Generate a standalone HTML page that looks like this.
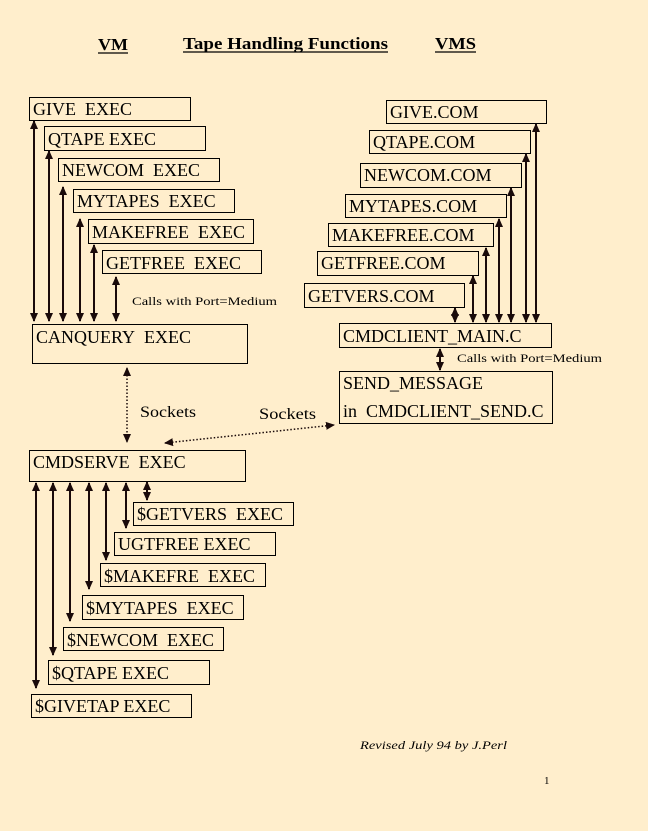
<!DOCTYPE html>
<html><head><style>
html,body{margin:0;padding:0;background:#FFEECC;}
svg{display:block;}
text{font-family:"Liberation Serif",serif;fill:#000;}
.s{font-size:12px;}
</style></head><body>
<svg width="648" height="831" viewBox="0 0 648 831" xmlns="http://www.w3.org/2000/svg">
<defs>
<marker id="a" markerWidth="9" markerHeight="9" refX="8" refY="4.5" orient="auto-start-reverse" markerUnits="userSpaceOnUse">
<path d="M0,0.5 L9,4.5 L0,8.5 Z" fill="#1a0a0a"/></marker>
</defs>
<rect width="648" height="831" fill="#FFEECC"/>
<g font-weight="bold" font-size="17">
<text x="98" y="50" textLength="30" lengthAdjust="spacingAndGlyphs">VM</text><line x1="98" y1="53" x2="128" y2="53" stroke="#000" stroke-width="1.2"/>
<text x="183" y="49" textLength="205" lengthAdjust="spacingAndGlyphs">Tape Handling Functions</text><line x1="183" y1="52" x2="388" y2="52" stroke="#000" stroke-width="1.2"/>
<text x="435" y="49" textLength="41" lengthAdjust="spacingAndGlyphs">VMS</text><line x1="435" y1="52" x2="476" y2="52" stroke="#000" stroke-width="1.2"/>
</g>
<g fill="none" stroke="#000" stroke-width="1">
<rect x="29.5" y="97.5" width="161" height="23"/>
<rect x="44.5" y="126.5" width="161" height="24"/>
<rect x="58.5" y="158.5" width="161" height="23"/>
<rect x="73.5" y="189.5" width="161" height="23"/>
<rect x="88.5" y="219.5" width="165" height="24"/>
<rect x="102.5" y="250.5" width="159" height="23"/>
<rect x="32.5" y="324.5" width="215" height="39"/>
<rect x="386.5" y="100.5" width="160" height="23"/>
<rect x="369.5" y="130.5" width="161" height="23"/>
<rect x="360.5" y="163.5" width="161" height="24"/>
<rect x="345.5" y="194.5" width="161" height="23"/>
<rect x="328.5" y="223.5" width="165" height="23"/>
<rect x="317.5" y="251.5" width="161" height="24"/>
<rect x="304.5" y="283.5" width="160" height="24"/>
<rect x="339.5" y="323.5" width="212" height="24"/>
<rect x="339.5" y="371.5" width="213" height="52"/>
<rect x="29.5" y="450.5" width="216" height="31"/>
<rect x="133.5" y="502.5" width="160" height="23"/>
<rect x="114.5" y="532.5" width="161" height="23"/>
<rect x="100.5" y="563.5" width="165" height="23"/>
<rect x="82.5" y="595.5" width="161" height="24"/>
<rect x="63.5" y="627.5" width="160" height="23"/>
<rect x="48.5" y="660.5" width="161" height="24"/>
<rect x="31.5" y="694.5" width="160" height="23"/>
</g>
<g font-size="18">
<text x="33" y="115">GIVE&#160; EXEC</text>
<text x="48" y="145">QTAPE EXEC</text>
<text x="62" y="176">NEWCOM&#160; EXEC</text>
<text x="77" y="207">MYTAPES&#160; EXEC</text>
<text x="92" y="238">MAKEFREE&#160; EXEC</text>
<text x="106" y="269">GETFREE&#160; EXEC</text>
<text x="36" y="343">CANQUERY&#160; EXEC</text>
<text x="390" y="118">GIVE.COM</text>
<text x="373" y="148">QTAPE.COM</text>
<text x="364" y="181">NEWCOM.COM</text>
<text x="349" y="212">MYTAPES.COM</text>
<text x="332" y="241">MAKEFREE.COM</text>
<text x="321" y="269">GETFREE.COM</text>
<text x="308" y="302">GETVERS.COM</text>
<text x="343" y="342">CMDCLIENT_MAIN.C</text>
<text x="343" y="389">SEND_MESSAGE</text>
<text x="343" y="417">in&#160; CMDCLIENT_SEND.C</text>
<text x="33" y="468">CMDSERVE&#160; EXEC</text>
<text x="137" y="520">$GETVERS&#160; EXEC</text>
<text x="118" y="550">UGTFREE EXEC</text>
<text x="104" y="582">$MAKEFRE&#160; EXEC</text>
<text x="86" y="614">$MYTAPES&#160; EXEC</text>
<text x="67" y="646">$NEWCOM&#160; EXEC</text>
<text x="52" y="679">$QTAPE EXEC</text>
<text x="35" y="712">$GIVETAP EXEC</text>
<text x="140" y="417" font-size="16" textLength="56" lengthAdjust="spacingAndGlyphs">Sockets</text>
<text x="259" y="419" font-size="16" textLength="57" lengthAdjust="spacingAndGlyphs">Sockets</text>
</g>
<text class="s" x="132" y="305" textLength="145" lengthAdjust="spacingAndGlyphs">Calls with Port=Medium</text>
<text class="s" x="457" y="362" textLength="145" lengthAdjust="spacingAndGlyphs">Calls with Port=Medium</text>
<text x="360" y="749" font-size="12" font-style="italic" textLength="147" lengthAdjust="spacingAndGlyphs">Revised July 94 by J.Perl</text>
<text x="544" y="784" font-size="11">1</text>
<g stroke="#1a0a0a" stroke-width="2" marker-start="url(#a)" marker-end="url(#a)">
<line x1="34" y1="121" x2="34" y2="321"/>
<line x1="49" y1="151" x2="49" y2="321"/>
<line x1="63" y1="187" x2="63" y2="321"/>
<line x1="80" y1="219" x2="80" y2="321"/>
<line x1="94" y1="245" x2="94" y2="321"/>
<line x1="116" y1="277" x2="116" y2="321"/>
<line x1="455" y1="308" x2="455" y2="322"/>
<line x1="473" y1="276" x2="473" y2="322"/>
<line x1="486" y1="248" x2="486" y2="322"/>
<line x1="499" y1="219" x2="499" y2="322"/>
<line x1="511" y1="188" x2="511" y2="322"/>
<line x1="526" y1="154" x2="526" y2="322"/>
<line x1="536" y1="124" x2="536" y2="322"/>
<line x1="440" y1="349" x2="440" y2="370"/>
<line x1="36" y1="483" x2="36" y2="688"/>
<line x1="53" y1="483" x2="53" y2="655"/>
<line x1="70" y1="483" x2="70" y2="621"/>
<line x1="89" y1="483" x2="89" y2="589"/>
<line x1="106" y1="483" x2="106" y2="560"/>
<line x1="126" y1="483" x2="126" y2="528"/>
<line x1="147" y1="482" x2="147" y2="500"/>
</g>
<g stroke="#1a0a0a" stroke-width="1.5" stroke-dasharray="1.5,2" marker-start="url(#a)" marker-end="url(#a)">
<line x1="127" y1="368" x2="127" y2="442"/>
<line x1="165" y1="443" x2="334" y2="425"/>
</g>
</svg>
</body></html>
